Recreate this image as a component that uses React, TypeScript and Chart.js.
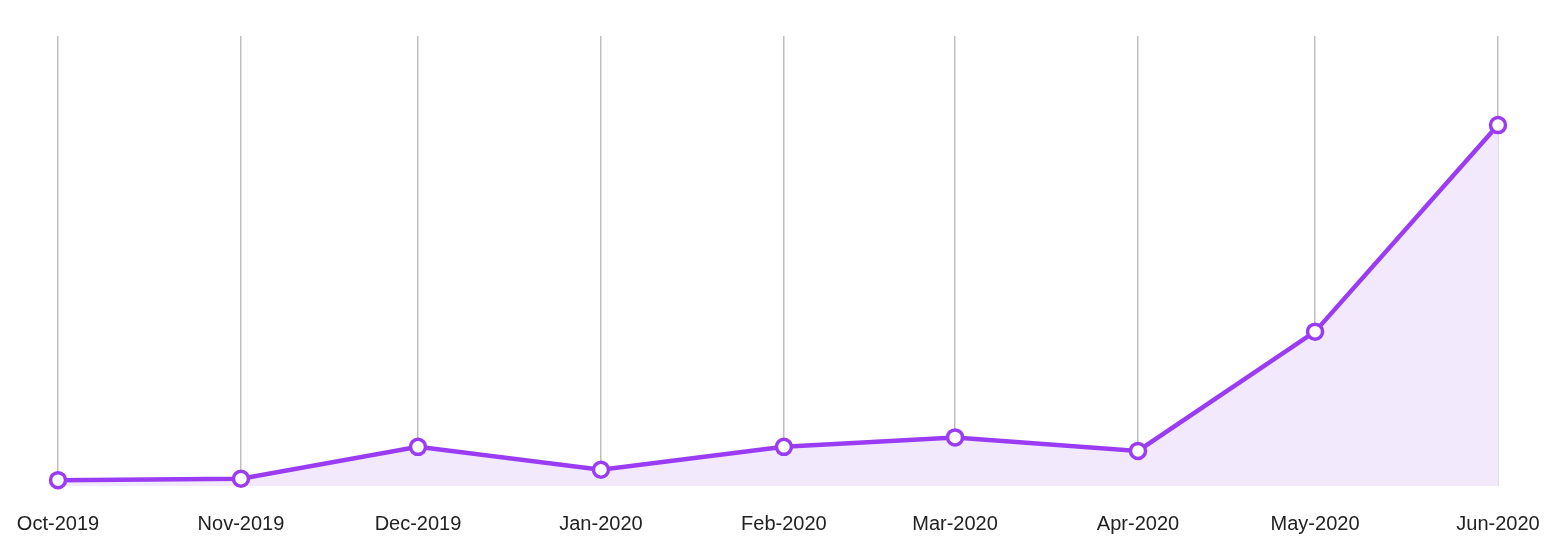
import React, { useEffect, useRef } from "react";
import { Chart, registerables } from "chart.js";

Chart.register(...registerables);

// Day offsets from 1 Oct 2019 for each month start
const monthDays = [0, 31, 61, 92, 123, 152, 183, 213, 244];
const monthLabels = [
  "Oct-2019",
  "Nov-2019",
  "Dec-2019",
  "Jan-2020",
  "Feb-2020",
  "Mar-2020",
  "Apr-2020",
  "May-2020",
  "Jun-2020",
];
const seriesValues = [1.3, 1.6, 8.7, 3.6, 8.7, 10.8, 7.8, 34.3, 80.2];

export default function App() {
  const ref = useRef<HTMLCanvasElement | null>(null);

  useEffect(() => {
    document.body.style.margin = "0";
    if (!ref.current) return;
    const chart = new Chart(ref.current, {
      type: "line",
      data: {
        datasets: [
          {
            data: monthDays.map((d, i) => ({ x: d, y: seriesValues[i] })),
            borderColor: "#9b3cf5",
            borderWidth: 4.5,
            backgroundColor: "#f3e9fd",
            fill: "origin",
            tension: 0,
            clip: false,
            pointRadius: 7.5,
            pointBorderWidth: 3.5,
            pointBackgroundColor: "#ffffff",
            pointBorderColor: "#9b3cf5",
          },
        ],
      },
      options: {
        animation: false,
        responsive: false,
        maintainAspectRatio: false,
        layout: { padding: { left: 58, right: 58, top: 36, bottom: 0 } },
        plugins: { legend: { display: false }, tooltip: { enabled: false } },
        scales: {
          x: {
            type: "linear",
            min: monthDays[0],
            max: monthDays[monthDays.length - 1],
            afterBuildTicks: (scale: any) => {
              scale.ticks = monthDays.map((v) => ({ value: v }));
            },
            afterFit: (scale: any) => {
              scale.height = 70;
              scale.paddingLeft = 0;
              scale.paddingRight = 0;
            },
            ticks: {
              autoSkip: false,
              maxRotation: 0,
              padding: 26,
              color: "#222222",
              font: { family: "Liberation Sans, Arial, sans-serif", size: 20 },
              callback: (v: any) => {
                const i = monthDays.indexOf(Number(v));
                return i >= 0 ? monthLabels[i] : "";
              },
            },
            grid: {
              display: true,
              color: "#bfbfbf",
              lineWidth: 1.5,
              drawTicks: false,
            },
            border: { display: false },
          },
          y: {
            display: false,
            min: 0,
            max: 100,
          },
        },
      },
    });
    return () => chart.destroy();
  }, []);

  return (
    <div style={{ width: 1556, height: 556 }}>
      <canvas ref={ref} width={1556} height={556} style={{ display: "block" }} />
    </div>
  );
}
